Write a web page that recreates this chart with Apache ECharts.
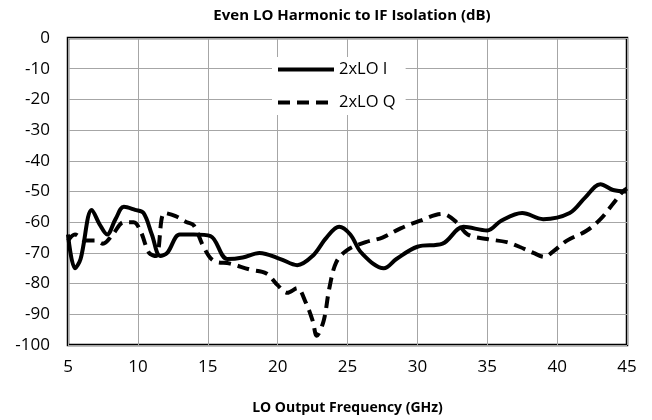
<!DOCTYPE html>
<html>
<head>
<meta charset="utf-8">
<script src="https://cdn.jsdelivr.net/npm/echarts@6/dist/echarts.min.js"></script>
<style>
  html, body { margin: 0; padding: 0; background: #fff; }
  #chart { width: 652px; height: 420px; }
</style>
</head>
<body>
<div id="chart"></div>
<script>
// LO frequency (GHz) and isolation (dB)
const freqI = [5, 5.5, 5.9, 6.7, 7.3, 7.8, 8.4, 9.0, 9.8, 10.4, 11.0, 11.6, 12.1, 13.0, 14.0, 15.2,
  16.4, 17.5, 18.7, 20.2, 21.4, 22.5, 23.5, 24.4, 25.2, 26.0, 27.6, 28.5, 30, 31.8, 33.3, 35,
  36, 37.5, 39, 40.9, 42, 43.1, 44, 45];
const isoI = [-64, -75, -72, -56, -61, -64, -59, -55, -56, -57, -64, -71, -70, -64, -64, -64.5,
  -72, -71.5, -70, -72, -74, -71, -65, -61.5, -64, -70, -75, -72, -68, -67, -61.5, -62.7,
  -59.5, -57, -59, -57, -52, -47.6, -49.5, -50];

const freqQ = [5, 5.5, 6.2, 7.0, 7.5, 8.2, 9.0, 9.7, 10.2, 10.8, 11.3, 11.9, 12.7, 13.5, 14.0,
  14.7, 15.4, 16.6, 18.0, 19.2, 20.0, 20.7, 21.4, 22.0, 22.5, 22.8, 23.3, 23.7, 24.2, 25,
  26.3, 27.5, 28.8, 30.2, 31.8, 32.8, 33.6, 35, 36.4, 37.3, 38.3, 39.1, 39.7, 40.7, 42.1,
  43.1, 44, 44.7, 45];
const isoQ = [-66, -64, -66, -66, -67, -64, -60, -60, -63, -70, -71, -57, -58, -60, -61,
  -68, -72.5, -73.5, -75.4, -76.7, -80.5, -83, -81.5, -86, -92, -97, -92, -81.5, -73, -69,
  -66.5, -65, -62, -59.5, -57.3, -60, -64, -65.5, -66.5, -68, -70, -71.3, -69.6, -66, -62.8,
  -59, -54, -50, -49];

const seriesNames = ['2xLO I', '2xLO Q'];

const pairs = (xs, ys) => xs.map((x, i) => [x, ys[i]]);

const font = '"Open Sans", sans-serif';
const chart = echarts.init(document.getElementById('chart'));

chart.setOption({
  animation: false,
  title: {
    text: 'Even LO Harmonic to IF Isolation (dB)',
    left: 347, textAlign: 'center', top: 3,
    textStyle: { fontFamily: font, fontSize: 15, fontWeight: 'bold', color: '#000' }
  },
  grid: {
    left: 68, right: 25, top: 38, bottom: 73,
    show: true, borderColor: '#000', borderWidth: 2.5
  },
  legend: {
    orient: 'vertical',
    left: 272, top: 57,
    itemWidth: 56, itemHeight: 14, itemGap: 16,
    backgroundColor: '#fff',
    padding: [4, 10, 4, 4],
    itemStyle: { opacity: 0 },
    lineStyle: { width: 4 },
    textStyle: { fontFamily: font, fontSize: 16.5, color: '#000' },
    data: seriesNames
  },
  xAxis: {
    type: 'value', min: 5, max: 45, interval: 5,
    name: 'LO Output Frequency (GHz)', nameLocation: 'middle', nameGap: 56,
    nameTextStyle: { fontFamily: font, fontSize: 14, fontWeight: 'bold', color: '#000' },
    axisLine: { show: false }, axisTick: { show: false },
    axisLabel: { fontFamily: font, fontSize: 17, color: '#000', margin: 14 },
    splitLine: { show: true, lineStyle: { color: '#a6a6a6', width: 1 } }
  },
  yAxis: {
    type: 'value', min: -100, max: 0, interval: 10,
    axisLine: { show: false }, axisTick: { show: false },
    axisLabel: { fontFamily: font, fontSize: 17, color: '#000', margin: 18 },
    splitLine: { show: true, lineStyle: { color: '#a6a6a6', width: 1 } }
  },
  series: [
    {
      name: seriesNames[0], type: 'line', data: pairs(freqI, isoI),
      smooth: 0.35, symbol: 'none',
      lineStyle: { color: '#000', width: 4 },
      itemStyle: { color: '#000' }
    },
    {
      name: seriesNames[1], type: 'line', data: pairs(freqQ, isoQ),
      smooth: 0.35, symbol: 'none',
      lineStyle: { color: '#000', width: 4, type: [12, 7] },
      itemStyle: { color: '#000' }
    }
  ]
});
</script>
</body>
</html>
